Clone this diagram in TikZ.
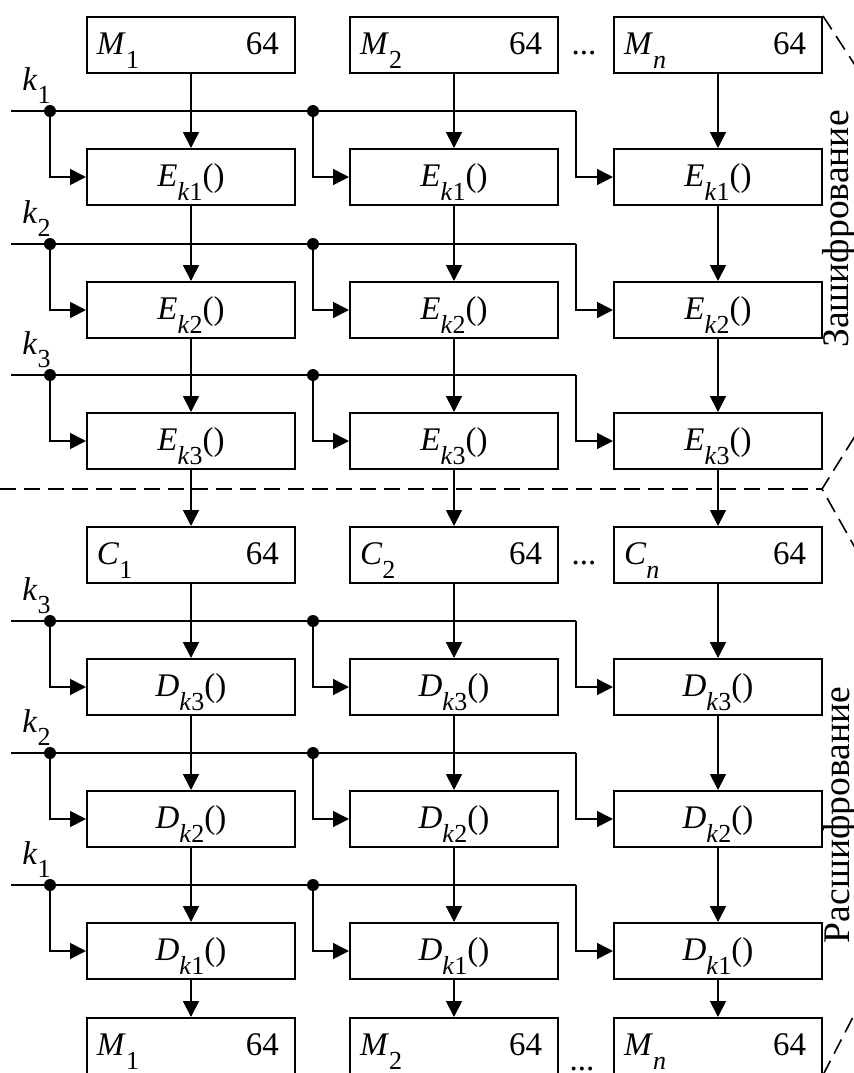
\documentclass[tikz,border=0pt]{standalone}
\usepackage{fontspec}
\setmainfont{Liberation Serif}
\usetikzlibrary{arrows.meta}
\usetikzlibrary{positioning}
\newcommand{\lbl}[2]{\textit{#1}\raisebox{-0.42em}{\fontsize{13}{13}\selectfont #2}}
\newcommand{\dat}[2]{\makebox[94pt]{\lbl{#1}{#2}\hfill 64\hspace{3pt}}}
\tikzset{
  blk/.style = {draw, line width=1pt, minimum width=104pt, minimum height=28pt,
    inner sep=0pt, text height=12.5pt, text depth=3pt},
  wire/.style = {line width=0.9pt},
  keydot/.style = {circle, fill, inner sep=0pt, minimum size=6pt},
  keylbl/.style = {anchor=base west, inner sep=0pt},
  sep/.style = {line width=0.8pt, dash pattern=on 8pt off 4pt},
  sidetxt/.style = {rotate=90, anchor=base, inner sep=0pt, font=\fontsize{18.8}{21}\selectfont}
}
\begin{document}
\begin{tikzpicture}[x=0.5pt,y=-0.5pt,>={Triangle[length=8pt,width=8pt]},font=\fontsize{16.5}{18}\selectfont]
\useasboundingbox (0,0) rectangle (854,1073);
\clip (0,0) rectangle (854,1073);

% data blocks
\foreach \c/\x/\s in {1/191/1,2/454/2,3/718/\textit{n}}{
  \node[blk] (m\c) at (\x,45) {\dat{M}{\s}};
  \node[blk] (c\c) at (\x,555) {\dat{C}{\s}};
  \node[blk] (b\c) at (\x,1046) {\dat{M}{\s}};
}
\node[anchor=base, inner sep=0pt] (dots1) at (584,54) {...};
\node[anchor=base, inner sep=0pt] (dots2) at (584,564) {...};
\node[anchor=base, inner sep=0pt] (dots3) at (582,1070) {...};

% cipher rounds with their keys
\foreach \p/\L/\y/\ky/\k in {e1/E/177/111/1,e2/E/310/244/2,e3/E/441/375/3,
                               d1/D/687/621/3,d2/D/819/753/2,d3/D/951/885/1}{
  \foreach \c/\x in {1/191,2/454,3/718}
    \node[blk] (\p\c) at (\x,\y) {\lbl{\L}{\textit{k}\k}()};
  \coordinate (s\p) at (11,\ky);
  \coordinate (a\p) at (50,\ky);
  \coordinate (b\p) at (313,\ky);
  \coordinate (t\p) at (576,\ky);
  \draw[wire] (s\p) -- (t\p);
  \draw[wire,->] (t\p) |- (\p3.west);
  \draw[wire,->] (a\p) |- (\p1.west);
  \draw[wire,->] (b\p) |- (\p2.west);
  \node[keydot] (da\p) at (a\p) {};
  \node[keydot] (db\p) at (b\p) {};
  \node[keylbl] (k\p) at ([shift={(11,-21)}]s\p) {\lbl{k}{\k}};
}

% data flow
\foreach \c in {1,2,3}{
  \draw[wire,->] (m\c) -- (e1\c);
  \draw[wire,->] (e1\c) -- (e2\c);
  \draw[wire,->] (e2\c) -- (e3\c);
  \draw[wire,->] (e3\c) -- (c\c);
  \draw[wire,->] (c\c) -- (d1\c);
  \draw[wire,->] (d1\c) -- (d2\c);
  \draw[wire,->] (d2\c) -- (d3\c);
  \draw[wire,->] (d3\c) -- (b\c);
}

% separators
\draw[sep] (0,489) -- (822,489);
\draw[sep] (m3.north east) -- +(58,89);
\draw[sep] (880,396) -- (822,489) -- (880,592);
\draw[sep] (b3.south east) -- +(58,-112);

\node[sidetxt] (enc) at (848,229) {Зашифрование};
\node[sidetxt] (dec) at (849,815) {Расшифрование};
\end{tikzpicture}
\end{document}
